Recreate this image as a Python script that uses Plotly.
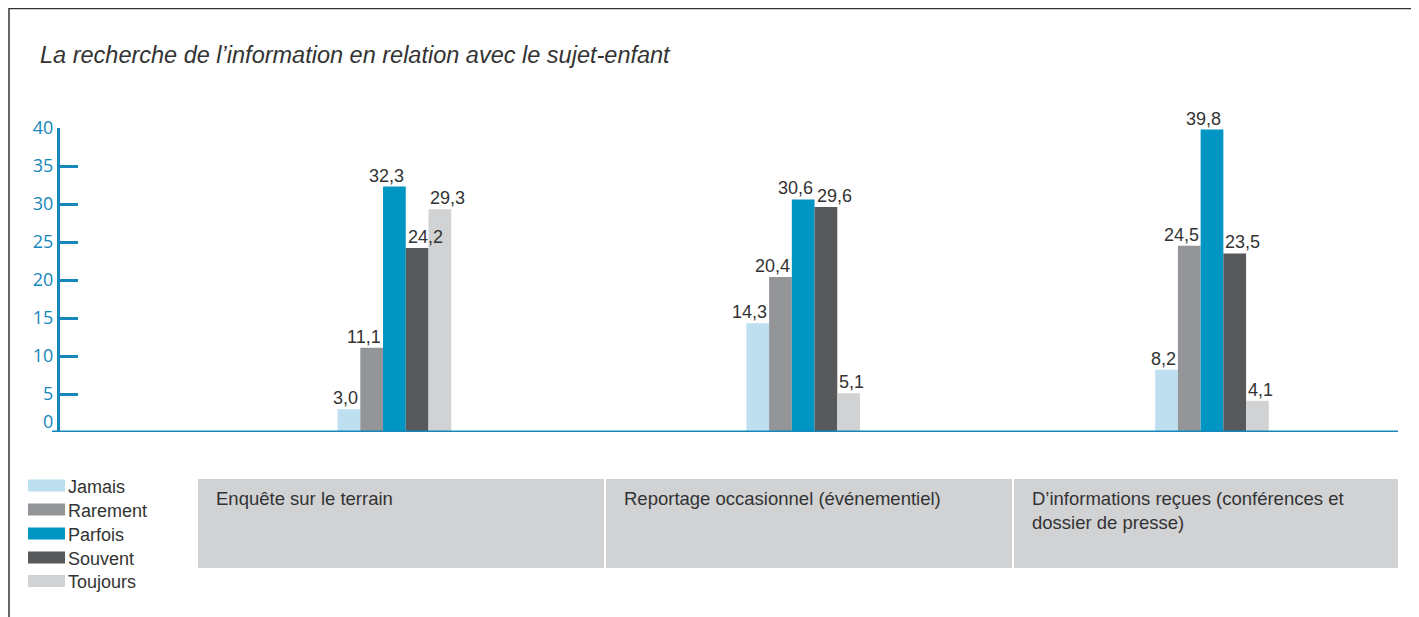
import plotly.graph_objects as go

# ---------------- data ----------------
categories = [
    "Enquête sur le terrain",
    "Reportage occasionnel (événementiel)",
    "D’informations reçues (conférences et dossier de presse)",
]
category_labels = [
    "Enquête sur le terrain",
    "Reportage occasionnel (événementiel)",
    "D’informations reçues (conférences et<br>dossier de presse)",
]
series_names = ["Jamais", "Rarement", "Parfois", "Souvent", "Toujours"]
jamais = [3.0, 14.3, 8.2]
rarement = [11.1, 20.4, 24.5]
parfois = [32.3, 30.6, 39.8]
souvent = [24.2, 29.6, 23.5]
toujours = [29.3, 5.1, 4.1]
series_values = [jamais, rarement, parfois, souvent, toujours]
colors = ["#bddff0", "#939598", "#0096c4", "#58595b", "#d1d2d4"]
y_ticks = [5, 10, 15, 20, 25, 30, 35, 40]
title_text = "La recherche de l’information en relation avec le sujet-enfant"

# ---------------- layout helpers ----------------
# page body has an 8px margin; figure is sized/shifted to compensate
OFF = 8
W, H = 1419 - OFF, 617 - OFF
ML, MT = 60 - OFF, 128 - OFF
PLOT_RIGHT, PLOT_BOTTOM = 1398 - OFF, 432 - OFF
MR, MB = W - PLOT_RIGHT, H - PLOT_BOTTOM
PW, PH = W - ML - MR, H - MT - MB

X_RANGE = [-0.818, 2.455]
BARGAP = 0.722
BAR_PX = (1 - BARGAP) * PW / (X_RANGE[1] - X_RANGE[0]) / len(series_names)


def px2x(px):
    """reference-picture x pixel -> paper x"""
    return (px - OFF - ML) / PW


def px2y(py):
    """reference-picture y pixel -> paper y"""
    return (PLOT_BOTTOM - (py - OFF)) / PH


AXIS_BLUE = "#1587bb"
TEXT = "#333333"
FONT = "Liberation Sans, Arial, sans-serif"

fig = go.Figure()
annotations = []
shapes = []

n = len(series_names)
for i, (name, vals, col) in enumerate(zip(series_names, series_values, colors)):
    fig.add_trace(go.Bar(
        name=name,
        x=categories,
        y=vals,
        marker=dict(color=col, line=dict(width=0)),
        showlegend=False,
        hoverinfo="x+y+name",
    ))
    # value labels: first series right-aligned on bar, last ones left-aligned
    centre = (i - (n - 1) / 2) * BAR_PX
    if i < 3:
        anchor, shift = "right", centre + BAR_PX / 2
    else:
        anchor, shift = "left", centre - BAR_PX / 2
    for cat, v in zip(categories, vals):
        annotations.append(dict(
            text=f"{v:.1f}".replace(".", ","), x=cat, y=v, xref="x", yref="y",
            xanchor=anchor, yanchor="bottom", xshift=shift, yshift=-1,
            showarrow=False,
            font=dict(family=FONT, size=18, color=TEXT)))

# frame
shapes.append(dict(type="line", xref="paper", yref="paper",
                   x0=px2x(9), x1=px2x(1419), y0=px2y(8.5), y1=px2y(8.5),
                   line=dict(color="#333333", width=1.5)))
shapes.append(dict(type="line", xref="paper", yref="paper",
                   x0=px2x(9), x1=px2x(9), y0=px2y(8), y1=px2y(617),
                   line=dict(color="#333333", width=1.5)))

# baseline
shapes.append(dict(type="line", xref="paper", yref="y",
                   x0=px2x(52), x1=px2x(1398), y0=0, y1=0,
                   line=dict(color=AXIS_BLUE, width=3)))

# zero label
annotations.append(dict(text="0", xref="paper", yref="y", x=px2x(55), y=0,
                        xanchor="right", yanchor="middle", yshift=11, showarrow=False,
                        font=dict(family="Open Sans, sans-serif", size=18, color=AXIS_BLUE)))

# legend (custom)
row_y = [485.5, 509.5, 533.5, 557.5, 581.0]
for name, col, ry in zip(series_names, colors, row_y):
    shapes.append(dict(type="rect", xref="paper", yref="paper",
                       x0=px2x(28), x1=px2x(65), y0=px2y(ry - 6), y1=px2y(ry + 6),
                       fillcolor=col, line=dict(width=0)))
    annotations.append(dict(text=name, xref="paper", yref="paper",
                            x=px2x(66), y=px2y(ry + 1), xanchor="left", yanchor="middle",
                            showarrow=False,
                            font=dict(family=FONT, size=18, color=TEXT)))

# category table cells
cells = [(198, 604), (606, 1012), (1014, 1398)]
for (cx0, cx1), lab in zip(cells, category_labels):
    shapes.append(dict(type="rect", xref="paper", yref="paper",
                       x0=px2x(cx0), x1=px2x(cx1), y0=px2y(479), y1=px2y(568),
                       fillcolor="#d1d2d4", line=dict(width=0)))
    annotations.append(dict(text=lab, xref="paper", yref="paper",
                            x=px2x(cx0 + 16), y=px2y(486), xanchor="left", yanchor="top",
                            align="left", showarrow=False,
                            font=dict(family=FONT, size=18.5, color=TEXT)))

fig.update_layout(
    width=W, height=H,
    margin=dict(l=ML, r=MR, t=MT, b=MB, pad=0),
    paper_bgcolor="white", plot_bgcolor="white",
    barmode="group", bargap=BARGAP, bargroupgap=0,
    showlegend=False,
    title=dict(text=title_text, xref="container", yref="container",
               x=(40 - OFF) / W, y=1 - (55 - OFF) / H, xanchor="left", yanchor="middle",
               font=dict(family=FONT, size=23.5, color=TEXT, style="italic")),
    xaxis=dict(type="category", range=X_RANGE, showticklabels=False,
               showgrid=False, zeroline=False, showline=False, ticks=""),
    yaxis=dict(range=[0, 40], tickvals=y_ticks, ticktext=[str(t) for t in y_ticks],
               showgrid=False, zeroline=False, showline=True, linecolor=AXIS_BLUE,
               linewidth=3, ticks="inside", ticklen=18, tickwidth=3, tickcolor=AXIS_BLUE,
               ticklabelstandoff=0,
               tickfont=dict(family="Open Sans, sans-serif", size=18, color=AXIS_BLUE)),
    shapes=shapes,
    annotations=annotations,
)

fig.write_html("out.html")
